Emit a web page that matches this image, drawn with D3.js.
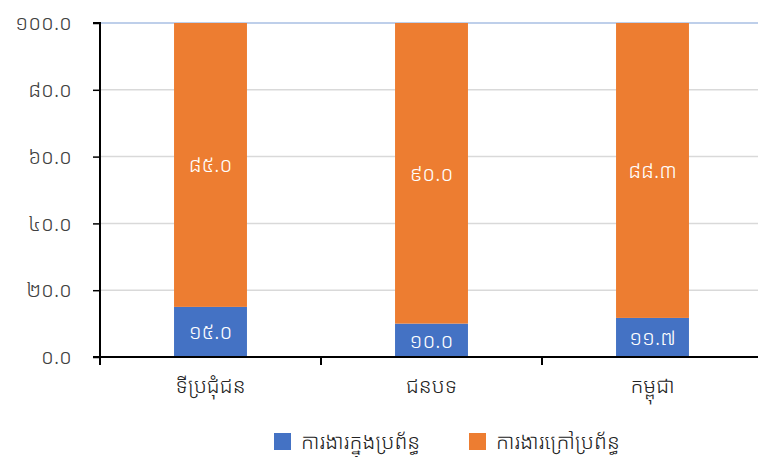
<!DOCTYPE html>
<html lang="km">
<head>
    <meta charset="UTF-8">
    <script src="https://cdn.jsdelivr.net/npm/d3@7"></script>
    <style>
        body { margin: 0; background: white; }
        svg text { font-family: "Noto Sans Khmer", "Khmer OS", "Noto Sans", "DejaVu Sans", sans-serif; font-weight: 300; }
    </style>
</head>
<body>
<div id="chart"></div>
<script>
    const categories = ["ទីប្រជុំជន", "ជនបទ", "កម្ពុជា"];
    const formal = [15.0, 10.0, 11.7];
    const informal = [85.0, 90.0, 88.3];
    const seriesNames = ["ការងារក្នុងប្រព័ន្ធ", "ការងារក្រៅប្រព័ន្ធ"];
    const seriesColors = ["#4472c4", "#ed7d31"];
    const yTicks = [0, 20, 40, 60, 80, 100];

    const khDigits = "០១២៣៤៥៦៧៨៩";
    const kh = v => v.toFixed(1).replace(/[0-9]/g, c => khDigits[+c]);

    const width = 758, height = 457;
    const margin = { top: 23, right: -5, bottom: 100, left: 100 };

    const svg = d3.select("#chart").append("svg")
        .attr("width", width)
        .attr("height", height);

    const x = d3.scaleBand()
        .domain(categories)
        .range([margin.left, width - margin.right])
        .paddingInner(0.67)
        .paddingOuter(0.335);

    const y = d3.scaleLinear()
        .domain([0, 100])
        .range([height - margin.bottom, margin.top]);

    // gridlines
    svg.append("g")
        .selectAll("line")
        .data(yTicks.filter(d => d > 0))
        .enter().append("line")
        .attr("x1", margin.left)
        .attr("x2", width)
        .attr("y1", d => y(d))
        .attr("y2", d => y(d))
        .attr("stroke", d => d === 100 ? "#a9bfe3" : "#d9d9d9")
        .attr("stroke-width", 1.5);

    const stacked = categories.map((c, i) => ({
        cat: c,
        parts: [
            { y0: 0, y1: formal[i], v: formal[i], s: 0 },
            { y0: formal[i], y1: formal[i] + informal[i], v: informal[i], s: 1 }
        ]
    }));

    const groups = svg.selectAll(".bar")
        .data(stacked)
        .enter().append("g")
        .attr("class", "bar");

    groups.selectAll("rect")
        .data(d => d.parts.map(p => Object.assign({ cat: d.cat }, p)))
        .enter().append("rect")
        .attr("x", d => x(d.cat))
        .attr("width", x.bandwidth())
        .attr("y", d => y(d.y1))
        .attr("height", d => y(d.y0) - y(d.y1))
        .attr("fill", d => seriesColors[d.s]);

    groups.selectAll("text")
        .data(d => d.parts.map(p => Object.assign({ cat: d.cat }, p)))
        .enter().append("text")
        .attr("x", d => x(d.cat) + x.bandwidth() / 2)
        .attr("y", d => (y(d.y0) + y(d.y1)) / 2)
        .attr("dy", "0.35em")
        .attr("text-anchor", "middle")
        .attr("fill", "white")
        .style("font-size", "21px")
        .text(d => kh(d.v));

    // y axis
    const yAxis = svg.append("g")
        .attr("transform", `translate(${margin.left},0)`)
        .call(d3.axisLeft(y).tickValues(yTicks).tickSize(7).tickPadding(21).tickFormat(kh));
    yAxis.select(".domain").attr("stroke", "black").attr("stroke-width", 2).attr("d", `M-7,${y(0)}H0V${y(100)}H-7`);
    yAxis.selectAll(".tick line").attr("stroke", "black").attr("stroke-width", 1.5);
    yAxis.selectAll("text").style("font-size", "21px").attr("fill", "#404040");

    // x axis
    const xAxis = svg.append("g")
        .attr("transform", `translate(0,${y(0)})`);
    xAxis.append("line")
        .attr("x1", margin.left).attr("x2", width)
        .attr("stroke", "black").attr("stroke-width", 2);
    const step = x.step();
    xAxis.selectAll(".sep")
        .data(d3.range(categories.length + 1))
        .enter().append("line")
        .attr("x1", i => margin.left + i * step)
        .attr("x2", i => margin.left + i * step)
        .attr("y1", 0).attr("y2", 8)
        .attr("stroke", "black").attr("stroke-width", 2);
    xAxis.selectAll(".lbl")
        .data(categories)
        .enter().append("text")
        .attr("x", d => x(d) + x.bandwidth() / 2)
        .attr("y", 36)
        .attr("text-anchor", "middle")
        .style("font-size", "21px")
        .attr("fill", "#222")
        .text(d => d);

    // legend
    const legend = svg.append("g").attr("transform", "translate(274,449)");
    const items = legend.selectAll("g")
        .data(seriesNames)
        .enter().append("g")
        .attr("transform", (d, i) => `translate(${i * 195},0)`);
    items.append("rect")
        .attr("x", 0).attr("y", -16)
        .attr("width", 17).attr("height", 17)
        .attr("fill", (d, i) => seriesColors[i]);
    items.append("text")
        .attr("x", 27).attr("y", 0)
        .style("font-size", "21px")
        .attr("fill", "#222")
        .text(d => d);
</script>
</body>
</html>
